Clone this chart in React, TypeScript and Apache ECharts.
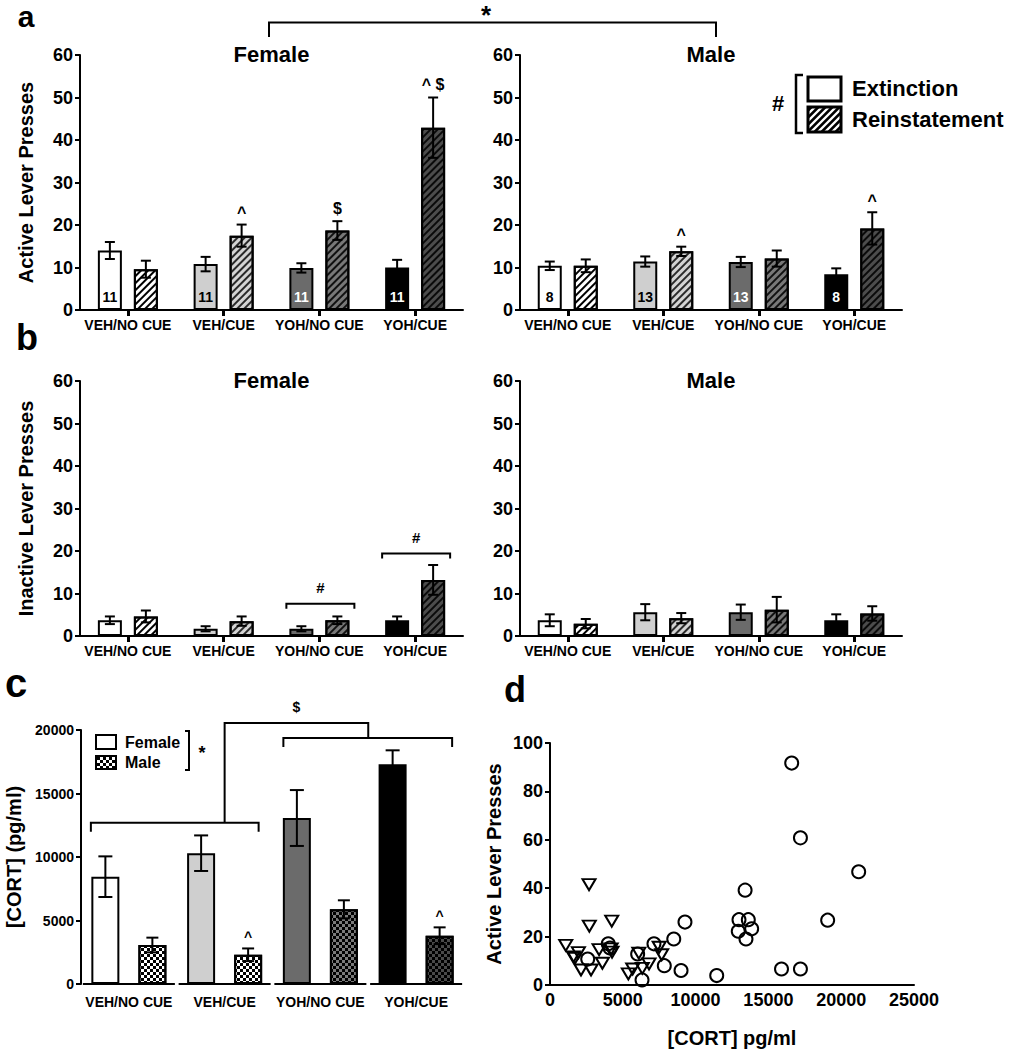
import React, { useEffect, useRef } from "react";
import * as echarts from "echarts";

// ---------- DATA ----------
const categories = ["VEH/NO CUE", "VEH/CUE", "YOH/NO CUE", "YOH/CUE"];

// Panel a: active lever presses (mean, SEM)
const aFemaleExt = [14.0, 10.8, 9.9, 10.0];
const aFemaleExtErr = [2.0, 1.7, 1.1, 1.8];
const aFemaleRein = [9.6, 17.5, 18.7, 42.9];
const aFemaleReinErr = [2.0, 2.6, 2.2, 7.1];
const aMaleExt = [10.4, 11.4, 11.3, 8.4];
const aMaleExtErr = [1.0, 1.2, 1.2, 1.4];
const aMaleRein = [10.4, 13.8, 12.1, 19.2];
const aMaleReinErr = [1.5, 1.1, 1.9, 3.8];
const nFemale = [11, 11, 11, 11];
const nMale = [8, 13, 13, 8];
const aFemaleMarks = ["", "^", "$", "^ $"];
const aMaleMarks = ["", "^", "", "^"];

// Panel b: inactive lever presses
const bFemaleExt = [3.7, 1.7, 1.7, 3.7];
const bFemaleExtErr = [0.9, 0.6, 0.6, 0.9];
const bFemaleRein = [4.6, 3.5, 3.7, 13.2];
const bFemaleReinErr = [1.4, 1.1, 0.9, 3.5];
const bMaleExt = [3.7, 5.6, 5.6, 3.7];
const bMaleExtErr = [1.4, 1.9, 1.8, 1.4];
const bMaleRein = [2.9, 4.2, 6.2, 5.3];
const bMaleReinErr = [1.1, 1.2, 3.0, 1.7];
const bFemaleBrackets = [
  [2, 7.6],
  [3, 19.4],
];

// Panel c: CORT (pg/ml)
const cFemale = [8450, 10300, 13070, 17300];
const cFemaleErr = [1600, 1400, 2200, 1100];
const cMale = [3070, 2300, 5880, 3800];
const cMaleErr = [580, 500, 710, 660];
const cMaleMarks = ["", "^", "", "^"];
const cBracketLevels = [12700, 19370, 20550];

// Panel d: scatter [CORT, active lever presses]
const dCircles = [
  [2590, 10.7], [4000, 17], [4120, 15.3], [6020, 12.8], [6320, 2.1], [7140, 17],
  [7850, 8], [8500, 19], [9000, 6], [9270, 26], [11450, 3.9], [12930, 22.2],
  [12980, 27], [13400, 39.2], [13620, 27], [13460, 19], [13850, 23.2], [15900, 6.6],
  [16600, 91.7], [17200, 60.8], [17200, 6.6], [19070, 26.8], [21200, 46.8],
];
const dTriangles = [
  [1080, 16.4], [1600, 11.6], [1700, 11.0], [1950, 13.4], [2130, 6.2], [2680, 41.5],
  [2700, 24.3], [2820, 6.2], [3370, 14.6], [3600, 9.0], [4240, 26.4], [4200, 14.9],
  [4260, 13.6], [5380, 4.6], [5680, 6.6], [6100, 13.2], [6340, 6.9], [6800, 8.7],
  [7500, 15.6], [7670, 12.5],
];

// ---------- STYLE ----------
const FONT = "'Liberation Sans', Arial, Helvetica, sans-serif";
const extFill = ["#ffffff", "#cfcfcf", "#6b6b6b", "#000000"];
const reinFill = ["#ffffff", "#d4d4d4", "#787878", "#4c4c4c"];
const reinStripe = ["#000000", "#2a2a2a", "#111111", "#0a0a0a"];
const nColor = ["#000", "#000", "#fff", "#fff"];
const cFemaleFill = ["#ffffff", "#cfcfcf", "#6b6b6b", "#000000"];
const cMaleFill = ["#ffffff", "#ffffff", "#7a7a7a", "#4a4a4a"];

const hatch = (color: string) => ({
  symbol: "rect",
  symbolSize: 1,
  color,
  dashArrayX: [1, 0],
  dashArrayY: [2, 3],
  rotation: -Math.PI / 4,
});
const checker = (color: string) => ({
  symbol: "rect",
  symbolSize: 1,
  color,
  dashArrayX: [
    [3, 3],
    [0, 3, 3, 0],
  ],
  dashArrayY: [3, 0],
  rotation: 0,
});

const plain = (v: number) => String(v);

function errSeries(
  gi: number,
  means: number[],
  errs: number[],
  offset: number,
  marks: string[] | null,
  capW: number,
  markSize: number
) {
  return {
    type: "custom",
    xAxisIndex: gi,
    yAxisIndex: gi,
    z: 5,
    silent: true,
    data: means.map((m, i) => [i, m, errs[i]]),
    renderItem: (params: any, api: any) => {
      const i = api.value(0);
      const m = api.value(1);
      const e = api.value(2);
      const x = api.coord([i, m])[0] + offset;
      const yT = api.coord([i, m + e])[1];
      const yB = api.coord([i, Math.max(0, m - e)])[1];
      const st = { stroke: "#000", lineWidth: 2 };
      const children: any[] = [
        { type: "line", shape: { x1: x, y1: yT, x2: x, y2: yB }, style: st },
        { type: "line", shape: { x1: x - capW / 2, y1: yT, x2: x + capW / 2, y2: yT }, style: st },
        { type: "line", shape: { x1: x - capW / 2, y1: yB, x2: x + capW / 2, y2: yB }, style: st },
      ];
      const mk = marks ? marks[params.dataIndex] : "";
      if (mk) {
        const dy = mk === "^" ? 4 : 13;
        children.push({
          type: "text",
          x,
          y: yT - dy,
          style: {
            text: mk,
            fill: "#000",
            font: `bold ${markSize}px ${FONT}`,
            align: "center",
            verticalAlign: mk === "^" ? "bottom" : "middle",
          },
        });
      }
      return { type: "group", children };
    },
  };
}

function barPanel(
  gi: number,
  ext: number[],
  extErr: number[],
  rein: number[],
  reinErr: number[],
  n: number[] | null,
  marks: string[] | null
) {
  return [
    {
      type: "bar",
      name: "Extinction",
      xAxisIndex: gi,
      yAxisIndex: gi,
      barWidth: 24,
      barGap: "50%",
      z: 2,
      data: ext.map((v, i) => ({
        value: v,
        itemStyle: { color: extFill[i], borderColor: "#000", borderWidth: 2 },
        label: n
          ? {
              show: true,
              position: "insideBottom",
              distance: 6,
              formatter: String(n[i]),
              color: nColor[i],
              fontSize: 14,
              fontWeight: "bold",
              fontFamily: FONT,
            }
          : { show: false },
      })),
    },
    {
      type: "bar",
      name: "Reinstatement",
      xAxisIndex: gi,
      yAxisIndex: gi,
      barWidth: 24,
      barGap: "50%",
      z: 2,
      data: rein.map((v, i) => ({
        value: v,
        itemStyle: {
          color: reinFill[i],
          borderColor: "#000",
          borderWidth: 2,
          decal: hatch(reinStripe[i]),
        },
      })),
    },
    errSeries(gi, ext, extErr, -18, null, 10, 16),
    errSeries(gi, rein, reinErr, 18, marks, 10, 16),
  ];
}

const axisLine = { show: true, lineStyle: { color: "#000", width: 2 } };
const labelStyle = (size: number) => ({
  color: "#000",
  fontSize: size,
  fontWeight: "bold",
  fontFamily: FONT,
});

function catAxis(gi: number, ticks: boolean, showLine: boolean, margin: number) {
  return {
    type: "category",
    gridIndex: gi,
    data: categories,
    axisLine: showLine ? axisLine : { show: false },
    axisTick: ticks
      ? { show: true, alignWithLabel: true, length: 6, lineStyle: { color: "#000", width: 3 } }
      : { show: false },
    axisLabel: { ...labelStyle(14), interval: 0, margin },
    splitLine: { show: false },
  };
}

function valAxis(
  gi: number,
  min: number,
  max: number,
  interval: number,
  size: number,
  name?: string,
  nameGap?: number
) {
  return {
    type: "value",
    gridIndex: gi,
    min,
    max,
    interval,
    axisLine,
    axisTick: { show: true, length: 5, lineStyle: { color: "#000", width: 2 } },
    axisLabel: { ...labelStyle(size), margin: 7, formatter: plain },
    splitLine: { show: false },
    name: name || "",
    nameLocation: "middle",
    nameGap: nameGap || 0,
    nameTextStyle: labelStyle(20),
  };
}

const T = (text: string, x: number, y: number, size: number, align = "center", lh?: number) => ({
  type: "text",
  x,
  y,
  silent: true,
  style: {
    text,
    fill: "#000",
    font: `bold ${size}px ${FONT}`,
    align,
    verticalAlign: "middle",
    ...(lh ? { lineHeight: lh } : {}),
  },
});
const P = (points: number[][], w = 2) => ({
  type: "polyline",
  silent: true,
  shape: { points },
  style: { stroke: "#000", lineWidth: w, fill: null },
});

function hatchLines(x0: number, y0: number, w: number, h: number, s: number) {
  const out: any[] = [];
  for (let c = x0 + y0 + s / 2; c < x0 + w + y0 + h; c += s) {
    const xs = Math.max(x0, c - (y0 + h));
    const xe = Math.min(x0 + w, c - y0);
    if (xe > xs) {
      out.push({
        type: "line",
        silent: true,
        shape: { x1: xs, y1: c - xs, x2: xe, y2: c - xe },
        style: { stroke: "#000", lineWidth: 2.5 },
      });
    }
  }
  return out;
}

function checkerRects(x0: number, y0: number, w: number, h: number, s: number) {
  const out: any[] = [];
  for (let r = 0; r * s < h; r++) {
    for (let c = 0; c * s < w; c++) {
      if ((r + c) % 2 === 0) {
        out.push({
          type: "rect",
          silent: true,
          shape: {
            x: x0 + c * s,
            y: y0 + r * s,
            width: Math.min(s, w - c * s),
            height: Math.min(s, h - r * s),
          },
          style: { fill: "#000" },
        });
      }
    }
  }
  return out;
}

function buildOption() {
  const grids = [
    { left: 80, top: 55, width: 383, height: 255 },
    { left: 520, top: 55, width: 382, height: 255 },
    { left: 80, top: 381, width: 383, height: 255 },
    { left: 520, top: 381, width: 382, height: 255 },
    { left: 81, top: 730, width: 383, height: 254 },
    { left: 550, top: 743, width: 364, height: 242 },
  ].map((g) => ({ ...g, containLabel: false, outerBoundsMode: "none" }));

  const xAxis = [
    catAxis(0, true, true, 8),
    catAxis(1, true, true, 8),
    catAxis(2, true, true, 8),
    catAxis(3, true, true, 8),
    catAxis(4, false, false, 11),
    {
      type: "value",
      gridIndex: 5,
      min: 0,
      max: 25000,
      interval: 5000,
      axisLine,
      axisTick: { show: false },
      axisLabel: { ...labelStyle(18), margin: 6, formatter: plain },
      splitLine: { show: false },
      name: "[CORT] pg/ml",
      nameLocation: "middle",
      nameGap: 43,
      nameTextStyle: labelStyle(20),
    },
  ];

  const yAxis = [
    valAxis(0, 0, 60, 10, 18, "Active Lever Presses", 44),
    valAxis(1, 0, 60, 10, 18),
    valAxis(2, 0, 60, 10, 18, "Inactive Lever Presses", 44),
    valAxis(3, 0, 60, 10, 18),
    valAxis(4, 0, 20000, 5000, 14, "[CORT] (pg/ml)", 57),
    valAxis(5, 0, 100, 20, 18, "Active Lever Presses", 46),
  ];

  const series: any[] = [
    ...barPanel(0, aFemaleExt, aFemaleExtErr, aFemaleRein, aFemaleReinErr, nFemale, aFemaleMarks),
    ...barPanel(1, aMaleExt, aMaleExtErr, aMaleRein, aMaleReinErr, nMale, aMaleMarks),
    ...barPanel(2, bFemaleExt, bFemaleExtErr, bFemaleRein, bFemaleReinErr, null, null),
    ...barPanel(3, bMaleExt, bMaleExtErr, bMaleRein, bMaleReinErr, null, null),
    {
      type: "custom",
      xAxisIndex: 2,
      yAxisIndex: 2,
      z: 6,
      silent: true,
      data: bFemaleBrackets,
      renderItem: (params: any, api: any) => {
        const c = api.coord([api.value(0), api.value(1)]);
        const x1 = c[0] - 33;
        const x2 = c[0] + 35;
        const y = c[1];
        return {
          type: "group",
          children: [
            {
              type: "polyline",
              shape: { points: [[x1, y + 5], [x1, y], [x2, y], [x2, y + 5]] },
              style: { stroke: "#000", lineWidth: 2, fill: null },
            },
            {
              type: "text",
              x: (x1 + x2) / 2,
              y: y - 16,
              style: {
                text: "#",
                fill: "#000",
                font: `bold 15px ${FONT}`,
                align: "center",
                verticalAlign: "middle",
              },
            },
          ],
        };
      },
    },
    // Panel c
    {
      type: "bar",
      name: "Female",
      xAxisIndex: 4,
      yAxisIndex: 4,
      barWidth: 28,
      barGap: "68%",
      data: cFemale.map((v, i) => ({
        value: v,
        itemStyle: { color: cFemaleFill[i], borderColor: "#000", borderWidth: 2 },
      })),
    },
    {
      type: "bar",
      name: "Male",
      xAxisIndex: 4,
      yAxisIndex: 4,
      barWidth: 28,
      barGap: "68%",
      data: cMale.map((v, i) => ({
        value: v,
        itemStyle: {
          color: cMaleFill[i],
          borderColor: "#000",
          borderWidth: 2,
          decal: checker("#000"),
        },
      })),
    },
    errSeries(4, cFemale, cFemaleErr, -23.5, null, 14, 14),
    errSeries(4, cMale, cMaleErr, 23.5, cMaleMarks, 12, 14),
    {
      type: "custom",
      xAxisIndex: 4,
      yAxisIndex: 4,
      z: 6,
      silent: true,
      data: categories.map((_, i) => [i, 0]),
      renderItem: (params: any, api: any) => {
        const c = api.coord([api.value(0), 0]);
        return {
          type: "line",
          shape: { x1: c[0] - 46, y1: c[1], x2: c[0] + 46, y2: c[1] },
          style: { stroke: "#000", lineWidth: 2 },
        };
      },
    },
    {
      type: "custom",
      xAxisIndex: 4,
      yAxisIndex: 4,
      z: 6,
      silent: true,
      data: [[0, cBracketLevels[0]]],
      renderItem: (params: any, api: any) => {
        const c0 = api.coord([0, cBracketLevels[0]]);
        const c1 = api.coord([1, cBracketLevels[0]]);
        const c2 = api.coord([2, cBracketLevels[1]]);
        const c3 = api.coord([3, cBracketLevels[1]]);
        const yTop = api.coord([0, cBracketLevels[2]])[1];
        const yL = c0[1];
        const yR = c2[1];
        const xm = (c2[0] + c3[0]) / 2;
        const st = { stroke: "#000", lineWidth: 2, fill: null };
        return {
          type: "group",
          children: [
            { type: "polyline", shape: { points: [[c0[0] - 38, yL + 9], [c0[0] - 38, yL], [c1[0] + 34, yL], [c1[0] + 34, yL + 9]] }, style: st },
            { type: "polyline", shape: { points: [[c2[0] - 37, yR + 9], [c2[0] - 37, yR], [c3[0] + 36, yR], [c3[0] + 36, yR + 9]] }, style: st },
            { type: "polyline", shape: { points: [[c1[0], yL], [c1[0], yTop], [xm, yTop], [xm, yR]] }, style: st },
            {
              type: "text",
              x: (c1[0] + xm) / 2,
              y: yTop - 16,
              style: { text: "$", fill: "#000", font: `bold 14px ${FONT}`, align: "center", verticalAlign: "middle" },
            },
          ],
        };
      },
    },
    // Panel d
    {
      type: "scatter",
      xAxisIndex: 5,
      yAxisIndex: 5,
      symbol: "circle",
      symbolSize: 13,
      itemStyle: { color: "rgba(255,255,255,0)", borderColor: "#000", borderWidth: 2, opacity: 1 },
      data: dCircles,
    },
    {
      type: "scatter",
      xAxisIndex: 5,
      yAxisIndex: 5,
      symbol: "triangle",
      symbolRotate: 180,
      symbolSize: [13, 11],
      itemStyle: { color: "rgba(255,255,255,0)", borderColor: "#000", borderWidth: 2, opacity: 1 },
      data: dTriangles,
    },
  ];

  const graphic: any[] = [
    T("a", 26, 16.5, 30, "center", 30),
    T("b", 27, 337, 36, "center", 26),
    T("c", 16, 683, 40, "center", 28),
    T("d", 515, 689, 36, "center", 28),
    T("Female", 271.5, 54, 22),
    T("Male", 711, 54, 22),
    T("Female", 271.5, 380, 22),
    T("Male", 711, 380, 22),
    P([[269, 37], [269, 22.5], [716, 22.5], [716, 37]]),
    T("*", 486, 15, 26, "center", 20),
    // legend a
    T("#", 778, 103, 22),
    P([[803, 75], [796, 75], [796, 133], [803, 133]], 2.5),
    { type: "rect", silent: true, shape: { x: 808, y: 77, width: 33, height: 24 }, style: { fill: "#fff", stroke: "#000", lineWidth: 3 } },
    { type: "rect", silent: true, shape: { x: 808, y: 107, width: 33, height: 25 }, style: { fill: "#fff", stroke: "#000", lineWidth: 3 } },
    ...hatchLines(808, 107, 33, 25, 7),
    T("Extinction", 852, 88, 22, "left"),
    T("Reinstatement", 852, 119, 22, "left"),
    // legend c
    { type: "rect", silent: true, shape: { x: 96, y: 735, width: 20, height: 14 }, style: { fill: "#fff", stroke: "#000", lineWidth: 2 } },
    { type: "rect", silent: true, shape: { x: 96, y: 756, width: 20, height: 13 }, style: { fill: "#fff", stroke: "#000", lineWidth: 2 } },
    ...checkerRects(97, 757, 18, 11, 3),
    T("Female", 125, 742, 16, "left"),
    T("Male", 125, 762, 16, "left"),
    P([[185, 731], [189, 731], [189, 770], [185, 770]]),
    T("*", 202, 753, 18),
  ];

  return {
    animation: false,
    backgroundColor: "#ffffff",
    grid: grids,
    xAxis,
    yAxis,
    series,
    graphic,
  };
}

export default function App() {
  const ref = useRef<HTMLDivElement>(null);
  useEffect(() => {
    if (!ref.current) return;
    const chart = echarts.init(ref.current, null, { renderer: "svg" });
    chart.setOption(buildOption() as any);
    return () => chart.dispose();
  }, []);
  return (
    <div
      ref={ref}
      style={{ position: "absolute", left: 0, top: 0, width: 1009, height: 1050, background: "#fff" }}
    />
  );
}
